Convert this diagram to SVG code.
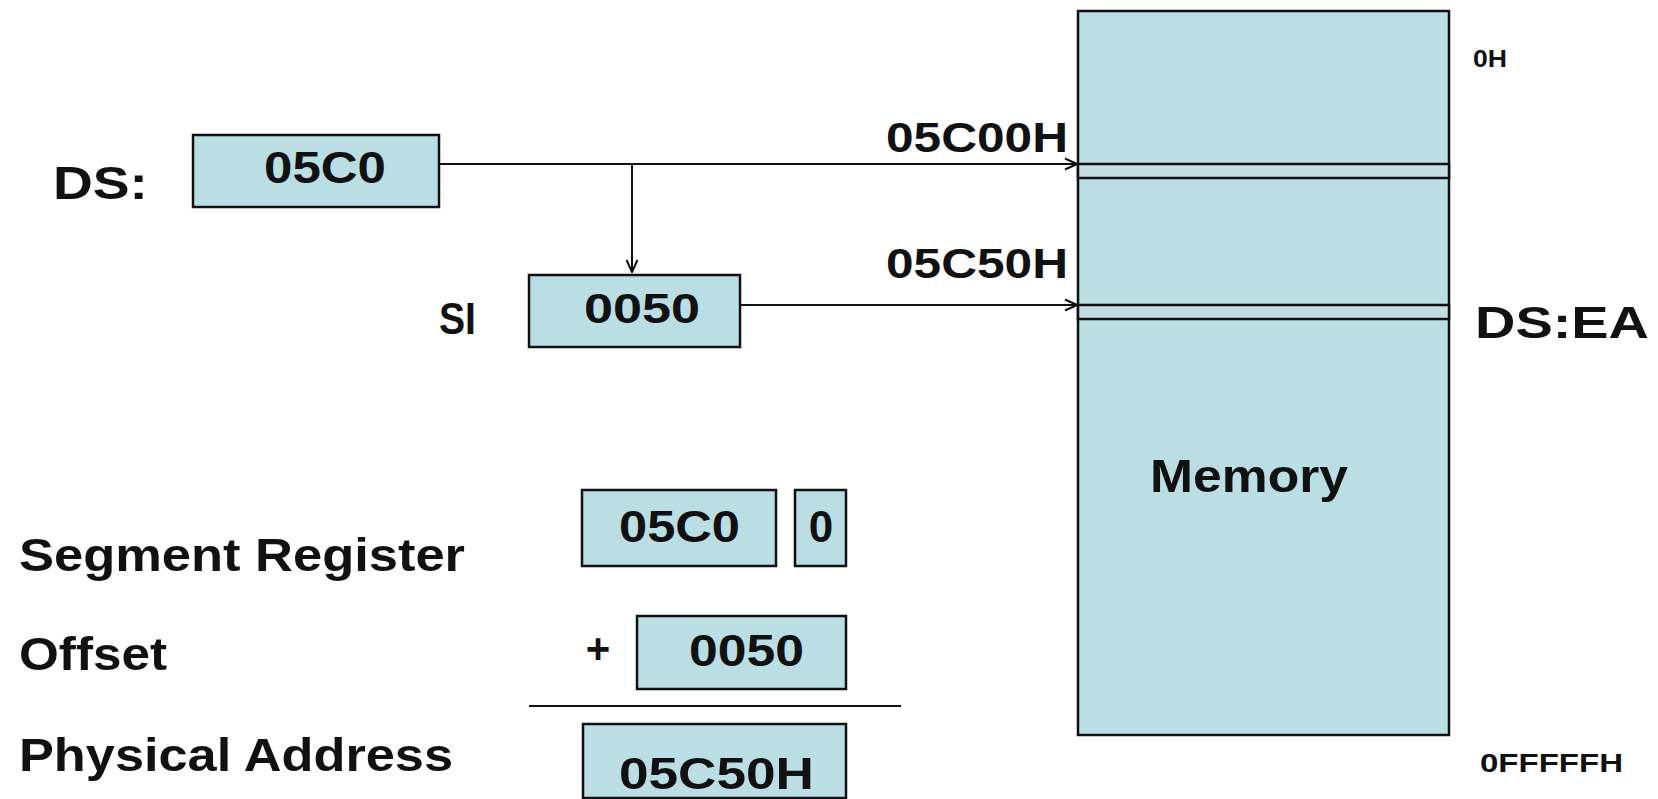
<svg xmlns="http://www.w3.org/2000/svg" width="1658" height="799" viewBox="0 0 1658 799">
<defs>
<marker id="arr" viewBox="0 0 14 14" refX="13" refY="7" markerWidth="14" markerHeight="14" markerUnits="userSpaceOnUse" orient="auto">
<path d="M1,1.5 L13,7 L1,12.5" fill="none" stroke="#111" stroke-width="2"/>
</marker>
</defs>
<style>
.box{fill:#badee4;stroke:#111;stroke-width:2.5}
.band{fill:#c4dde1;stroke:#111;stroke-width:2.5}
.t{font-family:"Liberation Sans",Arial,sans-serif;font-weight:bold;fill:#111}
.n{font-weight:normal}
.c{text-anchor:middle}
.ln{stroke:#111;stroke-width:2;fill:none}
</style>
<rect width="1658" height="799" fill="#fff"/>

<g id="memory">
<rect class="box" x="1078" y="11" width="371" height="724"/>
<rect class="band" x="1078" y="164" width="371" height="14"/>
<rect class="band" x="1078" y="305" width="371" height="14"/>
<text class="t" x="1150" y="492" font-size="46" textLength="198" lengthAdjust="spacingAndGlyphs">Memory</text>
</g>

<g id="label-0H"><text class="t" x="1473" y="67" font-size="23" textLength="34" lengthAdjust="spacingAndGlyphs">0H</text></g>
<g id="label-0FFFFFH"><text class="t" x="1480" y="772" font-size="25" textLength="143" lengthAdjust="spacingAndGlyphs">0FFFFFH</text></g>
<g id="label-DSEA"><text class="t" x="1475" y="338" font-size="44" textLength="174" lengthAdjust="spacingAndGlyphs">DS:EA</text></g>
<g id="label-05C00H"><text class="t" x="886" y="152" font-size="43" textLength="182" lengthAdjust="spacingAndGlyphs">05C00H</text></g>
<g id="label-05C50H"><text class="t" x="886" y="278" font-size="43" textLength="182" lengthAdjust="spacingAndGlyphs">05C50H</text></g>

<g id="ds">
<text class="t" x="53" y="199" font-size="47" textLength="95" lengthAdjust="spacingAndGlyphs">DS:</text>
<rect class="box" x="193" y="135" width="246" height="72"/>
<text class="t" x="264" y="183" font-size="45" textLength="122" lengthAdjust="spacingAndGlyphs">05C0</text>
</g>

<g id="si">
<text class="t" x="439" y="334" font-size="44" textLength="37" lengthAdjust="spacingAndGlyphs">SI</text>
<rect class="box" x="529" y="275" width="211" height="72"/>
<text class="t" x="584" y="323" font-size="43" textLength="116" lengthAdjust="spacingAndGlyphs">0050</text>
</g>

<g id="connectors">
<line class="ln" x1="439" y1="164" x2="1077" y2="164" marker-end="url(#arr)"/>
<line class="ln" x1="632" y1="164" x2="632" y2="272" marker-end="url(#arr)"/>
<line class="ln" x1="740" y1="305" x2="1077" y2="305" marker-end="url(#arr)"/>
</g>

<g id="segment-register">
<text class="t" x="19" y="571" font-size="46" textLength="446" lengthAdjust="spacingAndGlyphs">Segment Register</text>
<rect class="box" x="582" y="490" width="194" height="76"/>
<text class="t" x="619" y="542" font-size="44" textLength="121" lengthAdjust="spacingAndGlyphs">05C0</text>
<rect class="box" x="795" y="490" width="51" height="76"/>
<text class="t c" x="821" y="542" font-size="44">0</text>
</g>

<g id="offset">
<text class="t" x="19" y="670" font-size="46" textLength="148" lengthAdjust="spacingAndGlyphs">Offset</text>
<text class="t c" x="598" y="663" font-size="42">+</text>
<rect class="box" x="637" y="616" width="209" height="73"/>
<text class="t" x="689" y="666" font-size="44" textLength="115" lengthAdjust="spacingAndGlyphs">0050</text>
</g>

<line id="sum-line" class="ln" x1="529" y1="706" x2="901" y2="706"/>

<g id="physical-address">
<text class="t" x="19" y="771" font-size="46" textLength="434" lengthAdjust="spacingAndGlyphs">Physical Address</text>
<rect class="box" x="583" y="724" width="263" height="74"/>
<text class="t" x="619" y="789" font-size="44" textLength="195" lengthAdjust="spacingAndGlyphs">05C50H</text>
</g>
</svg>
